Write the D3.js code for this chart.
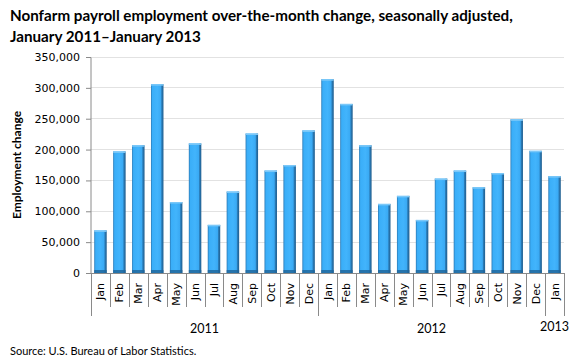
<!DOCTYPE html>
<html><head><meta charset="utf-8">
<script src="https://cdn.jsdelivr.net/npm/d3@7"></script>
<style>body{margin:0;background:#fff}svg{display:block}</style>
</head><body>
<script>
const months = ["Jan","Feb","Mar","Apr","May","Jun","Jul","Aug","Sep","Oct","Nov","Dec",
                "Jan","Feb","Mar","Apr","May","Jun","Jul","Aug","Sep","Oct","Nov","Dec","Jan"];
const years = ["2011","2011","2011","2011","2011","2011","2011","2011","2011","2011","2011","2011",
               "2012","2012","2012","2012","2012","2012","2012","2012","2012","2012","2012","2012","2013"];
const values = [69000,197000,207000,306000,115000,210000,78000,132000,226000,166000,175000,231000,
                314000,274000,207000,112000,125000,86000,153000,166000,139000,162000,249000,198000,157000];
const yTicks = [0,50000,100000,150000,200000,250000,300000,350000];

const W=580,H=363, m={l:91,r:16,t:57,b:90};
const svg=d3.select("body").append("svg").attr("width",W).attr("height",H);
const ids=months.map((d,i)=>i);
const x=d3.scaleBand().domain(ids).range([m.l,W-m.r]).paddingInner(0.34).paddingOuter(0.17);
const y=d3.scaleLinear().domain([0,350000]).range([H-m.b,m.t]);

const defs=svg.append("defs");
const g=defs.append("linearGradient").attr("id","bg").attr("x1","0").attr("x2","1");
[[0,"#2a78b4"],[0.12,"#3aaef8"],[0.5,"#42b4fc"],[0.78,"#3aaaf4"],[0.86,"#2a7cb8"],[1,"#1f5c8c"]].forEach(s=>g.append("stop").attr("offset",s[0]).attr("stop-color",s[1]));

// gridlines
svg.append("g").selectAll("line").data(yTicks.filter(d=>d>0)).join("line")
 .attr("x1",m.l).attr("x2",W-m.r).attr("y1",d=>y(d)).attr("y2",d=>y(d))
 .attr("stroke","#e2e2e2").attr("stroke-width",1).attr("shape-rendering","crispEdges");

// y axis
const ya=svg.append("g").attr("transform",`translate(${m.l},0)`)
 .call(d3.axisLeft(y).tickValues(yTicks).tickFormat(d3.format(",")).tickSize(5).tickPadding(6));
ya.select(".domain").attr("stroke","#8a8a8a").attr("d",`M-5,${y(350000)+0.5}H0V${y(0)}`);
ya.selectAll(".tick line").attr("stroke","#8a8a8a");
ya.selectAll("text").attr("font-family","DejaVu Sans, Verdana, sans-serif").attr("font-size","11px").attr("fill","#000");

// bars
const bars=svg.append("g").selectAll("g").data(values).join("g");
bars.append("rect").attr("x",(d,i)=>x(i)).attr("y",d=>y(d)).attr("width",x.bandwidth())
 .attr("height",d=>y(0)-y(d)).attr("fill","url(#bg)");
bars.append("rect").attr("x",(d,i)=>x(i)).attr("y",d=>y(d)).attr("width",x.bandwidth())
 .attr("height",1.5).attr("fill","#7cc8f8");
bars.append("rect").attr("x",(d,i)=>x(i)).attr("y",d=>y(0)-3).attr("width",x.bandwidth())
 .attr("height",3).attr("fill","#1f6498").attr("opacity",0.8);

// x axis baseline
const base=y(0);
svg.append("line").attr("x1",m.l).attr("x2",W-m.r).attr("y1",base+0.5).attr("y2",base+0.5)
 .attr("stroke","#8a8a8a");
// separators
const step=x.step();
const bounds=d3.range(months.length+1);
svg.append("g").selectAll("line").data(bounds).join("line")
 .attr("x1",i=>Math.round(m.l+i*step)+0.5).attr("x2",i=>Math.round(m.l+i*step)+0.5)
 .attr("y1",base).attr("y2",i=>(i===0||i===months.length||years[i]!==years[i-1])?base+43:base+34)
 .attr("stroke","#8a8a8a");
// month labels
svg.append("g").selectAll("text").data(months).join("text")
 .attr("transform",(d,i)=>`translate(${m.l+i*step+step/2+4},${base+10}) rotate(-90)`)
 .attr("text-anchor","end").attr("font-family","DejaVu Sans, Verdana, sans-serif").attr("font-size","11px")
 .text(d=>d);
// year labels
const yearGroups=d3.groups(ids,i=>years[i]);
svg.append("g").selectAll("text").data(yearGroups).join("text")
 .attr("x",d=>{const a=d[1][0],b=d[1][d[1].length-1]+1;return m.l+(a+b)/2*step;})
 .attr("y",(d,i)=>d[1].length>1?base+60:base+58)
 .attr("text-anchor","middle").attr("font-family","Lato, sans-serif").attr("font-size","12.5px")
 .text(d=>d[0]);

// titles
const t=svg.append("text").attr("font-family","Lato, sans-serif").attr("font-weight","bold").attr("font-size","15.2px").attr("fill","#000");
t.append("tspan").attr("x",10).attr("y",21).text("Nonfarm payroll employment over-the-month change, seasonally adjusted,");
t.append("tspan").attr("x",10).attr("y",42).text("January 2011\u2013January 2013");

svg.append("text").attr("transform",`translate(21,${(y(0)+y(350000))/2}) rotate(-90)`)
 .attr("text-anchor","middle").attr("font-family","Lato, sans-serif").attr("font-weight","bold").attr("font-size","12px")
 .text("Employment change");

svg.append("text").attr("x",10).attr("y",355).attr("font-family","Lato, sans-serif").attr("font-size","11px")
 .text("Source: U.S. Bureau of Labor Statistics.");
</script>
</body></html>
